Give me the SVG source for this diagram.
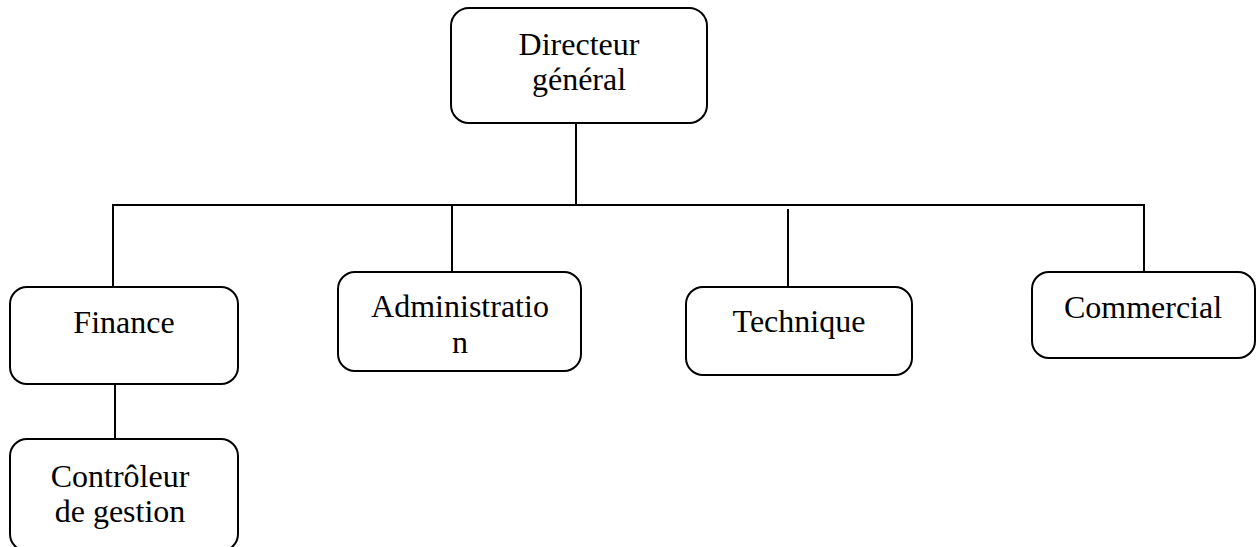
<svg xmlns="http://www.w3.org/2000/svg" width="1256" height="547" viewBox="0 0 1256 547">
  <style>
    .box { fill: #ffffff; stroke: #000000; stroke-width: 2; }
    .lbl { font-family: "Liberation Serif", "Times New Roman", serif; font-size: 32px; fill: #000000; text-anchor: middle; }
    .conn { fill: none; stroke: #000000; stroke-width: 2; }
  </style>
  <rect width="1256" height="547" fill="#ffffff"/>
  <g id="connectors">
    <line class="conn" x1="576" y1="123" x2="576" y2="205"/>
    <polyline class="conn" points="113,287 113,205 1144,205 1144,272"/>
    <line class="conn" x1="452" y1="205" x2="452" y2="272"/>
    <line class="conn" x1="788" y1="209" x2="788" y2="287"/>
    <line class="conn" x1="115" y1="384" x2="115" y2="439"/>
  </g>
  <g id="directeur">
    <rect class="box" x="451" y="8" width="256" height="115" rx="18"/>
    <text class="lbl" x="579" y="55">Directeur</text>
    <text class="lbl" x="579" y="90">général</text>
  </g>
  <g id="finance">
    <rect class="box" x="10" y="287" width="228" height="97" rx="17"/>
    <text class="lbl" x="124" y="333">Finance</text>
  </g>
  <g id="administration">
    <rect class="box" x="338" y="272" width="243" height="99" rx="17"/>
    <text class="lbl" x="460" y="317">Administratio</text>
    <text class="lbl" x="460" y="353">n</text>
  </g>
  <g id="technique">
    <rect class="box" x="686" y="287" width="226" height="88" rx="17"/>
    <text class="lbl" x="799" y="332">Technique</text>
  </g>
  <g id="commercial">
    <rect class="box" x="1032" y="272" width="223" height="86" rx="17"/>
    <text class="lbl" x="1143" y="318">Commercial</text>
  </g>
  <g id="controleur">
    <rect class="box" x="10" y="439" width="228" height="112" rx="17"/>
    <text class="lbl" x="120" y="487">Contrôleur</text>
    <text class="lbl" x="120" y="522">de gestion</text>
  </g>
</svg>
